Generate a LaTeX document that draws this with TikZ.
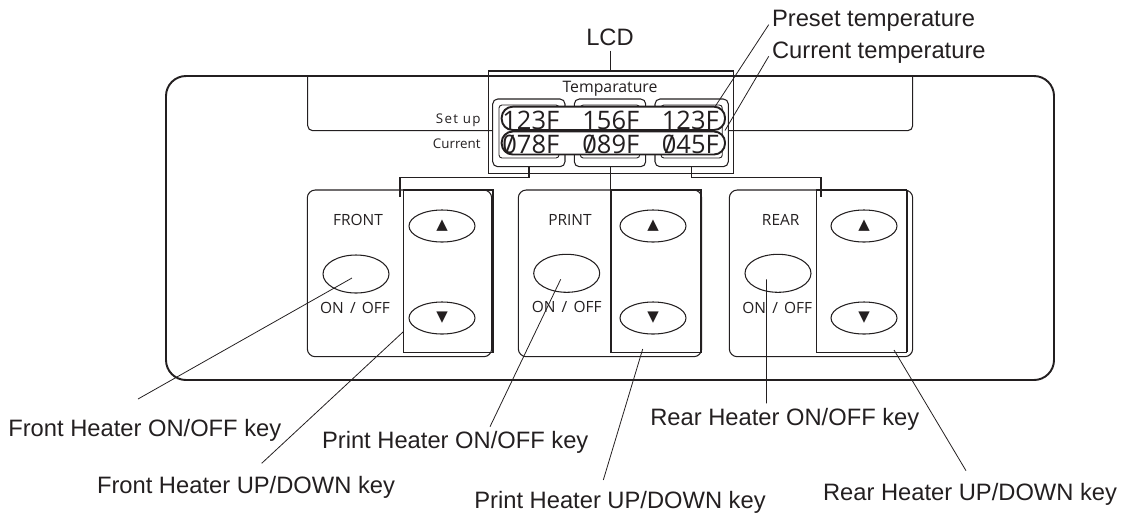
\documentclass[tikz,border=0pt]{standalone}
\usepackage{fontspec}
\setmainfont{Liberation Sans}
\newfontfamily\panelfont{Open Sans}
\newfontfamily\symbolfont{DejaVu Sans}
\usepackage{tikz}
\usetikzlibrary{shapes.geometric}
\definecolor{inkgray}{RGB}{35, 31, 32}
\newcommand{\slashzero}{\ooalign{0\cr\hidewidth/\hidewidth\cr}}
\tikzset{
    calloutlabel/.style={font=\fontsize{13.5}{16}\selectfont, inkgray, inner sep=0pt, anchor=base west},
    leader/.style={inkgray, line width=0.45pt},
    keypanel/.style={draw=inkgray, line width=0.6pt, rounded corners=1.6mm},
    keycolumn/.style={draw=inkgray, line width=0.6pt},
    keyoval/.style={draw=inkgray, line width=0.6pt, ellipse, inner sep=0pt,
        minimum width=1.32cm, minimum height=0.64cm, font=\symbolfont\fontsize{8.5}{9}\selectfont, inkgray},
    onoffoval/.style={keyoval, minimum height=0.76cm},
    paneltext/.style={font=\panelfont\fontsize{8.8}{10}\selectfont, inkgray, inner sep=0pt},
    lcddigits/.style={font=\panelfont\fontsize{14.5}{16}\selectfont, inkgray, inner sep=0pt, anchor=base},
    capsule/.style={draw=inkgray, line width=1.1pt, rounded corners=2.2mm},
    subbox/.style={draw=inkgray, line width=0.6pt, fill=white, rounded corners=1mm}
}

\begin{document}
\begin{tikzpicture}[x=0.2mm, y=-0.2mm]
        \useasboundingbox (0,0) rectangle (1130,514);

        % Control panel body
        \draw[inkgray, line width=1.1pt, rounded corners=4mm] (166,76) rectangle (1054,380);
        \draw[inkgray, line width=0.6pt, rounded corners=1mm] (307.7,76) -- (307.7,130.7) -- (912.7,130.7) -- (912.7,76);

        % LCD
        \draw[inkgray, line width=0.6pt] (488.5,71) rectangle (733.3,173.3);
        \node[calloutlabel, anchor=base] (lcd) at (610,45) {LCD};
        \coordinate (lcdtop) at (610,71);
        \draw[leader] ([yshift=-1mm]lcd.south) -- (lcdtop);
        \node[font=\panelfont\fontsize{9}{10}\selectfont, inkgray, inner sep=0pt, anchor=base] (lcdtitle) at (610,92.3) {Temparature};

        \draw[subbox] (492.7,99) rectangle (565,166.7);
        \draw[subbox] (574.3,99) rectangle (645.7,166.7);
        \draw[subbox] (655,99) rectangle (728.3,166.7);
        \draw[inkgray, line width=0.5pt, rounded corners=0.6mm] (499,105) rectangle (559,158);
        \draw[inkgray, line width=0.5pt, rounded corners=0.6mm] (580.3,105) rectangle (639.7,158);
        \draw[inkgray, line width=0.5pt, rounded corners=0.6mm] (661,105) rectangle (722.3,158);

        \node[font=\panelfont\addfontfeatures{LetterSpace=10}\fontsize{7.6}{8}\selectfont, inkgray, inner sep=0pt, anchor=base east] (setuplabel) at (481,123.3) {Set up};
        \node[font=\panelfont\fontsize{7.6}{8}\selectfont, inkgray, inner sep=0pt, anchor=base east] (currentlabel) at (481,148.3) {Current};

        \draw[capsule, fill=white] (501.7,106.7) rectangle (725,130);
        \draw[capsule, fill=white] (501.7,131.5) rectangle (725,154.5);
        \node[lcddigits] (setfront) at (530.8,129) {123F};
        \node[lcddigits] (setprint) at (610.8,129) {156F};
        \node[lcddigits] (setrear) at (690.3,129) {123F};
        \node[lcddigits] (curfront) at (530.8,153.5) {\slashzero78F};
        \node[lcddigits] (curprint) at (610.8,153.5) {\slashzero89F};
        \node[lcddigits] (currear) at (690.3,153.5) {\slashzero45F};

        % LCD to key panels
        \draw[inkgray, line width=0.6pt] (529,166.7) -- (529,177.7) -- (400,177.7) -- (400,196.7);
        \draw[inkgray, line width=0.6pt] (610.7,166.7) -- (610.7,190);
        \draw[inkgray, line width=0.6pt] (691.7,166.7) -- (691.7,177.7) -- (821,177.7) -- (821,196.7);

        % Front panel
        \draw[keypanel] (307.3,190) rectangle (491.7,356.7);
        \draw[keycolumn] (403.3,190) rectangle (493,352.3);
        \draw[inkgray, line width=1.1pt] (493,190) -- (493,352.3);
        \node[paneltext] (fronttitle) at (358,220) {FRONT};
        \node[onoffoval] (frontonoff) at (356,274) {};
        \node[paneltext] (frontonofftext) at (355,308) {ON\hspace{0.4em}/\hspace{0.4em}OFF};
        \node[keyoval] (frontup) at (442,226) {▲};
        \node[keyoval] (frontdown) at (442,318) {▼};

        % Print panel
        \draw[keypanel] (518.3,190) rectangle (701.7,356.7);
        \draw[keycolumn] (611,190) rectangle (701,352.7);
        \draw[inkgray, line width=1.1pt] (701,190) -- (701,352.7);
        \node[paneltext] (printtitle) at (570,220) {PRINT};
        \node[onoffoval] (printonoff) at (566.7,273.3) {};
        \node[paneltext] (printonofftext) at (566.7,306.7) {ON\hspace{0.4em}/\hspace{0.4em}OFF};
        \node[keyoval] (printup) at (653,226) {▲};
        \node[keyoval] (printdown) at (653,318) {▼};

        % Rear panel
        \draw[keypanel] (729.3,190) rectangle (912.7,356.7);
        \draw[keycolumn] (816.7,190) rectangle (906.7,352.3);
        \draw[inkgray, line width=1.1pt] (906.7,190) -- (906.7,352.3);
        \node[paneltext] (reartitle) at (780.7,220) {REAR};
        \node[onoffoval] (rearonoff) at (778,273.3) {};
        \node[paneltext] (rearonofftext) at (777.3,308.3) {ON\hspace{0.4em}/\hspace{0.4em}OFF};
        \node[keyoval] (rearup) at (864,226) {▲};
        \node[keyoval] (reardown) at (864,318) {▼};

        % Callouts
        \node[calloutlabel] (presetlabel) at (771.7,26.7) {Preset temperature};
        \node[calloutlabel] (currentlabeltop) at (771.7,58.3) {Current temperature};
        \coordinate (presetend) at (715,106.7);
        \coordinate (currentend) at (725,130.5);
        \draw[leader] (presetlabel.base west) ++(-3,-2) -- (presetend);
        \draw[leader] (currentlabeltop.base west) ++(-3,-2) -- (currentend);

        \node[calloutlabel] (frontonofflabel) at (8,436.7) {Front Heater ON/OFF key};
        \node[calloutlabel] (frontupdownlabel) at (96.7,493.3) {Front Heater UP/DOWN key};
        \node[calloutlabel] (printonofflabel) at (321.7,448.3) {Print Heater ON/OFF key};
        \node[calloutlabel] (printupdownlabel) at (474,508.3) {Print Heater UP/DOWN key};
        \node[calloutlabel] (rearonofflabel) at (650,425.7) {Rear Heater ON/OFF key};
        \node[calloutlabel] (rearupdownlabel) at (822.7,500) {Rear Heater UP/DOWN key};

        \coordinate (frontonoffend) at (138,399);
        \coordinate (frontcolpin) at (403,332);
        \coordinate (frontupdownend) at (261.7,463.3);
        \coordinate (printonoffend) at (490,426.7);
        \coordinate (printcolpin) at (642.7,349);
        \coordinate (printupdownend) at (603.3,480);
        \coordinate (rearonoffend) at (766.5,403.3);
        \coordinate (rearcolpin) at (894,350);
        \coordinate (rearupdownend) at (966,470.7);

        \draw[leader] ([shift={(-4,4)}]frontonoff.center) -- (frontonoffend);
        \draw[leader] (frontcolpin) -- (frontupdownend);
        \draw[leader] ([shift={(-6,6)}]printonoff.center) -- (printonoffend);
        \draw[leader] (printcolpin) -- (printupdownend);
        \draw[leader] ([shift={(-11.5,6)}]rearonoff.center) -- (rearonoffend);
        \draw[leader] (rearcolpin) -- (rearupdownend);

    \end{tikzpicture}
\end{document}
